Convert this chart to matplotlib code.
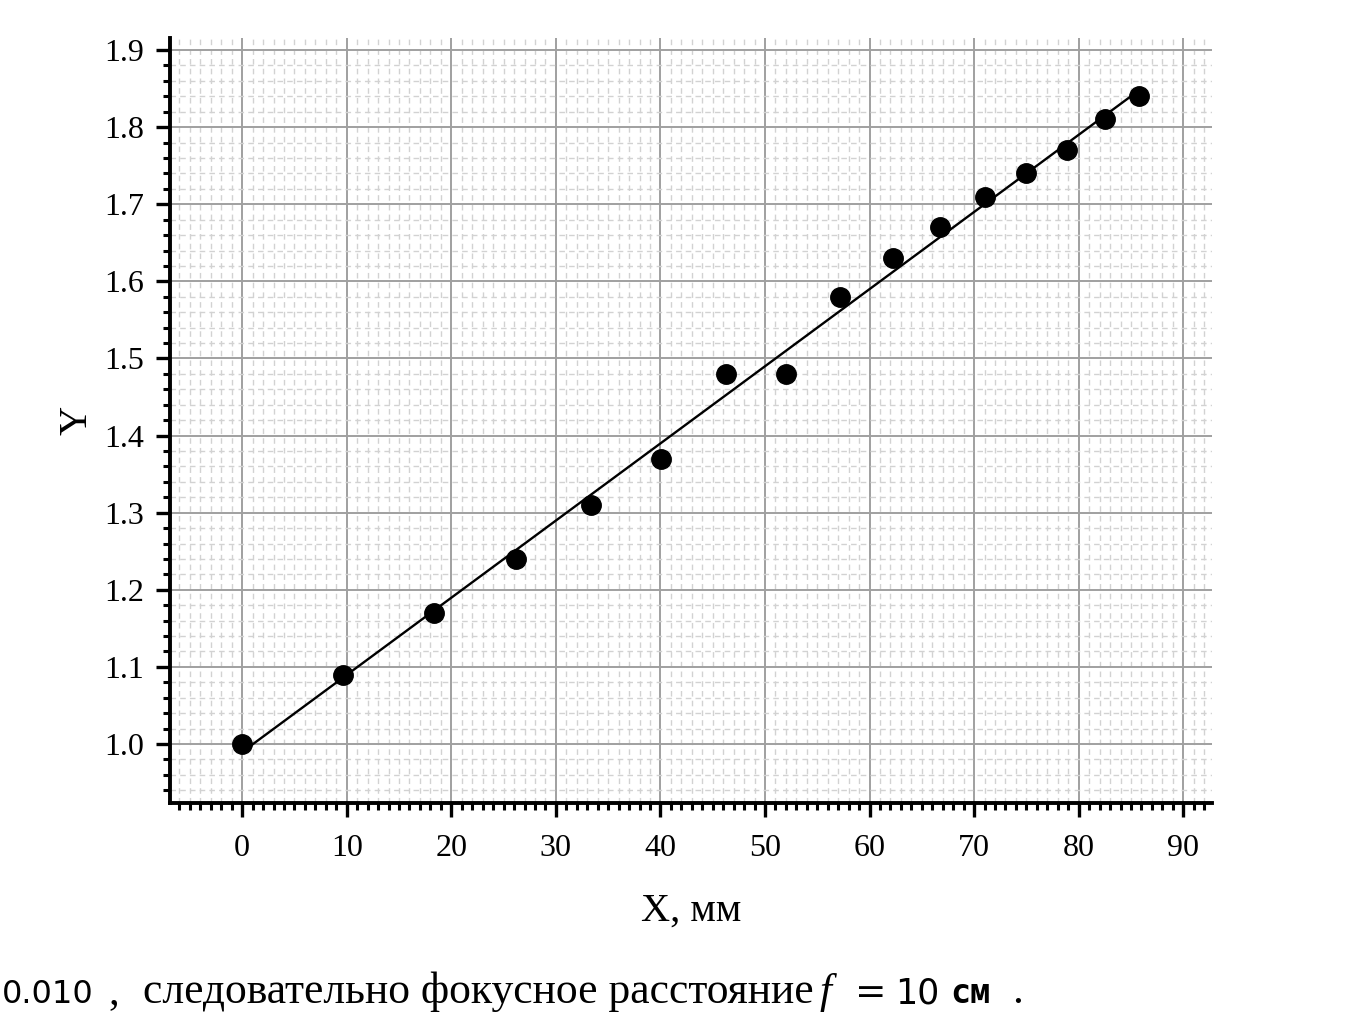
import numpy as np
import matplotlib
matplotlib.use("Agg")
import matplotlib.pyplot as plt
from matplotlib.ticker import MultipleLocator

# data
x_mm = [0.0, 9.6, 18.3, 26.2, 33.4, 40.1, 46.3, 52.0, 57.2, 62.2, 66.7, 71.0, 75.0, 78.9, 82.5, 85.8]
y_val = [1.00, 1.09, 1.17, 1.24, 1.31, 1.37, 1.48, 1.48, 1.58, 1.63, 1.67, 1.71, 1.74, 1.77, 1.81, 1.84]
x_ticks = [0, 10, 20, 30, 40, 50, 60, 70, 80, 90]
y_ticks = [1.0, 1.1, 1.2, 1.3, 1.4, 1.5, 1.6, 1.7, 1.8, 1.9]

serif = ["Liberation Serif", "DejaVu Serif"]
plt.rcParams["font.family"] = serif

fig = plt.figure(figsize=(13.56, 10.19), dpi=100)
ax = fig.add_axes([0.1254, 0.2120, 0.7684, 0.7507])

# linear fit
k, b = np.polyfit(x_mm, y_val, 1)
xf = np.array([min(x_mm), max(x_mm)])
ax.plot(xf, k * xf + b, color="black", lw=1.7, zorder=3)
ax.plot(x_mm, y_val, "o", color="black", ms=14, zorder=4)

ax.set_xlim(-6.9, 92.75)
ax.set_ylim(0.9235, 1.9156)
ax.set_xticks(x_ticks)
ax.set_yticks(y_ticks)
ax.set_yticklabels(["%.1f" % v for v in y_ticks])
ax.xaxis.set_minor_locator(MultipleLocator(1))
ax.yaxis.set_minor_locator(MultipleLocator(0.02))

ax.grid(which="major", color="#a0a0a0", lw=1.4, ls="-", zorder=1)
ax.grid(which="minor", color="#d2d2d2", lw=1.0, ls=(0, (4, 3)), zorder=0)
ax.set_axisbelow(True)

for s in ["top", "right"]:
    ax.spines[s].set_visible(False)
for s in ["left", "bottom"]:
    ax.spines[s].set_linewidth(2.8)

ax.tick_params(which="major", direction="out", length=10, width=2.4, labelsize=23, pad=9)
ax.tick_params(axis="x", which="major", pad=12)
ax.tick_params(which="minor", direction="out", length=5, width=2.2)

ax.set_xlabel("X, мм", fontsize=29, labelpad=22)
ax.set_ylabel("Y", fontsize=29, labelpad=6)

# text line under the chart
yb = 1 - 1003 / 1019
fig.text(2 / 1356, yb, "0.010", fontsize=23, family="DejaVu Sans", va="baseline")
fig.text(108 / 1356, yb, ",", fontsize=31, va="baseline")
fig.text(143 / 1356, yb, "следовательно фокусное расстояние", fontsize=31.4, va="baseline")
fig.text(820 / 1356, yb, "f", fontsize=31, style="italic", va="baseline")
fig.text(855 / 1356, yb, "=", fontsize=27, family="DejaVu Sans", va="baseline")
fig.text(895 / 1356, yb, "10", fontsize=25, family="DejaVu Sans", va="baseline")
fig.text(950 / 1356, yb, "см", fontsize=24, family="DejaVu Sans Mono", weight="bold", va="baseline")
fig.text(1012 / 1356, yb, ".", fontsize=31, va="baseline")

fig.savefig("out.png", dpi=100)
